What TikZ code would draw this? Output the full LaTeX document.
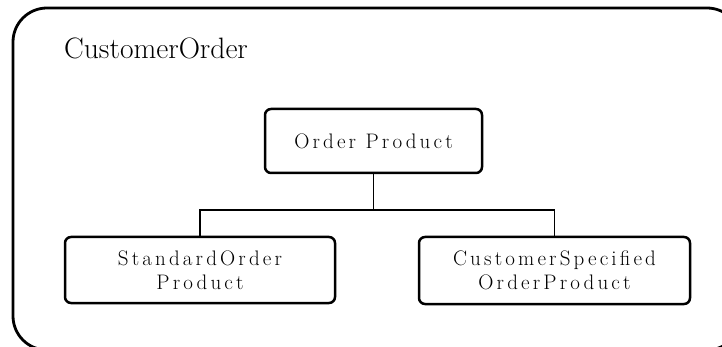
\documentclass[tikz,border=0pt]{standalone}
\usepackage{fontspec}
\setmainfont{Latin Modern Roman}
\newfontfamily\boxfont[LetterSpace=15]{Latin Modern Roman}
\tikzset{
  frame/.style={line width=2.8pt, rounded corners=34pt},
  classbox/.style={draw, line width=2.5pt, rounded corners=6pt, align=center,
    inner sep=0pt, font=\boxfont\fontsize{21}{23.5}\selectfont},
  link/.style={line width=1.6pt},
}
\begin{document}
\begin{tikzpicture}[x=1pt,y=-1pt]
  \useasboundingbox (0,0) rectangle (722,347);
  \clip (0,0) rectangle (722,347);
  % package frame, running past the page on the right and bottom
  \draw[frame] (13,8) rectangle (741,350);
  \node[anchor=base west, inner sep=0pt, font=\fontsize{29.5}{34}\selectfont]
    (pkg) at (64,59) {CustomerOrder};
  % classes
  \node[classbox, minimum width=217pt, minimum height=64pt] (op) at (373.5,141) {Order Product};
  \node[classbox, minimum width=270pt, minimum height=66pt] (sop) at (200,270) {StandardOrder\\Product};
  \node[classbox, minimum width=271pt, minimum height=67pt] (csop) at (554.5,270.5) {CustomerSpecified\\OrderProduct};
  % generalisation tree
  \coordinate (j) at (373.5,210);
  \draw[link] (op.south) -- (j);
  \draw[link] (j) -| (sop.north);
  \draw[link] (j) -| (csop.north);
\end{tikzpicture}
\end{document}
